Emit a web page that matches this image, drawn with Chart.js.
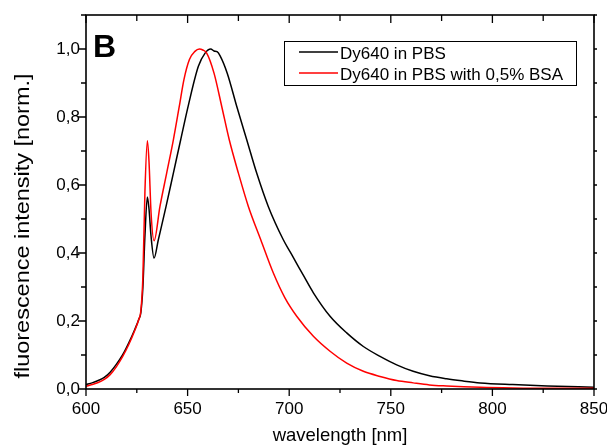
<!DOCTYPE html>
<html>
<head>
<meta charset="utf-8">
<script src="https://cdn.jsdelivr.net/npm/chart.js@4.4.0/dist/chart.umd.min.js"></script>
<style>
  body { margin: 0; background: #fff; }
  #chartjs-0 { display: block; }
</style>
</head>
<body>
<canvas id="chartjs-0" width="607" height="447"></canvas>
<script>
// Dy640 in PBS (black curve)
var wlPBS = [600, 603, 606, 609, 612, 615, 618, 621, 624, 626, 627, 628, 629, 630.2, 631, 632, 633.5,
  635.6, 639.4, 643, 646.6, 650.4, 655.3, 658.6, 661.4, 663, 664.5, 666, 669.5, 674.2, 679.1,
  684, 689.7, 697.1, 700.4, 703.7, 707, 711.9, 720.1, 728.3, 736.5, 744.7, 752.9, 761, 769, 777.5,
  785, 794, 810, 827, 850];
var valPBS = [0.013, 0.018, 0.025, 0.034, 0.050, 0.073, 0.100, 0.135, 0.175, 0.205, 0.225, 0.30, 0.45, 0.565, 0.53, 0.45, 0.385,
  0.439, 0.537, 0.635, 0.733, 0.835, 0.949, 0.988, 1.0, 0.994, 0.992, 0.98, 0.929, 0.831, 0.733,
  0.635, 0.537, 0.439, 0.404, 0.369, 0.334, 0.283, 0.214, 0.165, 0.125, 0.096, 0.071, 0.052, 0.039, 0.030,
  0.024, 0.018, 0.013, 0.009, 0.005];

// Dy640 in PBS with 0,5% BSA (red curve)
var wlBSA = [600, 603, 606, 609, 612, 615, 618, 621, 624, 626, 627, 628, 629, 630.2, 631, 632, 633.5,
  636.4, 639.7, 643, 645.9, 648.2, 650.9, 653.6, 655.8, 657.5, 659.4, 663, 666.8, 670.5, 675, 679.9,
  686, 692.2, 697.9, 703.7, 711.9, 720.1, 728.3, 736.5, 744.7, 752.9, 761, 769, 777.5, 794, 810, 827, 850];
var valBSA = [0.008, 0.013, 0.019, 0.028, 0.043, 0.066, 0.095, 0.130, 0.172, 0.205, 0.23, 0.33, 0.58, 0.730, 0.67, 0.52, 0.436,
  0.537, 0.635, 0.733, 0.831, 0.91, 0.969, 0.993, 1.0, 0.997, 0.988, 0.929, 0.831, 0.733, 0.635, 0.537,
  0.439, 0.341, 0.268, 0.214, 0.155, 0.111, 0.076, 0.052, 0.037, 0.025, 0.018, 0.012, 0.009, 0.005, 0.003, 0.002, 0.002];

var xTicks = [600, 650, 700, 750, 800, 850];
var yTicks = [0, 0.2, 0.4, 0.6, 0.8, 1.0];
var seriesNames = ["Dy640 in PBS", "Dy640 in PBS with 0,5% BSA"];
var seriesColors = ["#000000", "#ff0000"];
var panelLabel = "B";
var xTitle = "wavelength [nm]";
var yTitle = "fluorescence intensity [norm.]";

var fontName = "'Liberation Sans', Arial, sans-serif";

function toPoints(xs, ys) {
  var pts = [];
  for (var i = 0; i < xs.length; i++) {
    pts.push({ x: xs[i], y: ys[i] });
  }
  return pts;
}

function comma(v) {
  return Number(v).toFixed(1).replace(".", ",");
}

/* frame, ticks, legend box, panel letter and y title */
var decorPlugin = {
  id: "decor",
  afterDraw: function (chart) {
    var ctx = chart.ctx;
    var a = chart.chartArea;
    var xs = chart.scales.x;
    var ys = chart.scales.y;
    ctx.save();

    // axis box
    ctx.strokeStyle = "#000";
    ctx.lineWidth = 1.6;
    ctx.strokeRect(a.left, a.top, a.right - a.left, a.bottom - a.top);

    // ticks
    ctx.lineWidth = 1.3;
    ctx.beginPath();
    for (var i = 0; i < xTicks.length; i++) {
      var px = xs.getPixelForValue(xTicks[i]);
      ctx.moveTo(px, a.bottom); ctx.lineTo(px, a.bottom + 7);
      ctx.moveTo(px, a.top); ctx.lineTo(px, a.top + 8);
      if (i < xTicks.length - 1) {
        var mx = xs.getPixelForValue((xTicks[i] + xTicks[i + 1]) / 2);
        ctx.moveTo(mx, a.bottom); ctx.lineTo(mx, a.bottom + 4);
        ctx.moveTo(mx, a.top); ctx.lineTo(mx, a.top + 6);
      }
    }
    for (var j = 0; j < yTicks.length; j++) {
      var py = ys.getPixelForValue(yTicks[j]);
      ctx.moveTo(a.left, py); ctx.lineTo(a.left - 8, py);
      ctx.moveTo(a.right, py); ctx.lineTo(a.right + 3, py);
      var my = ys.getPixelForValue(yTicks[j] + 0.1);
      ctx.moveTo(a.left, my); ctx.lineTo(a.left - 5, my);
      ctx.moveTo(a.right, my); ctx.lineTo(a.right + 3, my);
    }
    ctx.stroke();

    // legend
    var lx = 284, ly = 41, lw = 292, lh = 44;
    ctx.fillStyle = "#fff";
    ctx.fillRect(lx, ly, lw, lh);
    ctx.lineWidth = 1;
    ctx.strokeStyle = "#000";
    ctx.strokeRect(lx + 0.5, ly + 0.5, lw, lh);
    ctx.font = "17px " + fontName;
    ctx.textAlign = "left";
    ctx.textBaseline = "alphabetic";
    for (var k = 0; k < seriesNames.length; k++) {
      var rowY = 52 + k * 21;
      ctx.strokeStyle = seriesColors[k];
      ctx.lineWidth = 1.5;
      ctx.beginPath();
      ctx.moveTo(299, rowY);
      ctx.lineTo(338, rowY);
      ctx.stroke();
      ctx.fillStyle = "#000";
      ctx.fillText(seriesNames[k], 340, rowY + 7);
    }

    // panel letter
    ctx.font = "bold 32px " + fontName;
    ctx.fillStyle = "#000";
    ctx.fillText(panelLabel, 93, 57);

    // y axis title, stretched to the length seen in the original
    ctx.font = "20px " + fontName;
    var w = ctx.measureText(yTitle).width;
    ctx.translate(23, 226);
    ctx.rotate(-Math.PI / 2);
    ctx.scale(305 / w, 1);
    ctx.textAlign = "center";
    ctx.textBaseline = "middle";
    ctx.fillText(yTitle, 0, 0);

    ctx.restore();
  }
};

var ctx0 = document.getElementById("chartjs-0");
var myChart = new Chart(ctx0, {
  type: "line",
  data: {
    datasets: [
      {
        label: seriesNames[0],
        data: toPoints(wlPBS, valPBS),
        borderColor: seriesColors[0],
        borderWidth: 1.5,
        pointRadius: 0,
        fill: false,
        cubicInterpolationMode: "monotone",
        order: 1
      },
      {
        label: seriesNames[1],
        data: toPoints(wlBSA, valBSA),
        borderColor: seriesColors[1],
        borderWidth: 1.5,
        pointRadius: 0,
        fill: false,
        cubicInterpolationMode: "monotone",
        order: 0
      }
    ]
  },
  options: {
    responsive: false,
    animation: false,
    devicePixelRatio: 1,
    layout: { padding: { left: 0, right: 13, top: 15, bottom: 0 } },
    plugins: {
      legend: { display: false },
      tooltip: { enabled: false }
    },
    scales: {
      x: {
        type: "linear",
        min: 600,
        max: 850,
        afterBuildTicks: function (s) {
          s.ticks = xTicks.map(function (v) { return { value: v }; });
        },
        afterFit: function (s) {
          s.height = 58;
          s.paddingLeft = 0;
          s.paddingRight = 0;
        },
        ticks: {
          color: "#000",
          padding: 10,
          maxRotation: 0,
          autoSkip: false,
          font: { family: fontName, size: 17 },
          callback: function (v) { return String(v); }
        },
        grid: { display: false, drawTicks: false },
        border: { display: false },
        title: {
          display: true,
          text: xTitle,
          color: "#000",
          font: { family: fontName, size: 18.5 },
          padding: { top: 0, bottom: 0 }
        }
      },
      y: {
        type: "linear",
        min: 0,
        max: 1.1,
        afterBuildTicks: function (s) {
          s.ticks = yTicks.map(function (v) { return { value: v }; });
        },
        afterFit: function (s) {
          s.width = 86;
          s.paddingTop = 0;
          s.paddingBottom = 0;
        },
        ticks: {
          color: "#000",
          padding: 6,
          font: { family: fontName, size: 17 },
          callback: function (v) { return comma(v); }
        },
        grid: { display: false, drawTicks: false },
        border: { display: false }
      }
    }
  },
  plugins: [decorPlugin]
});
</script>
</body>
</html>
